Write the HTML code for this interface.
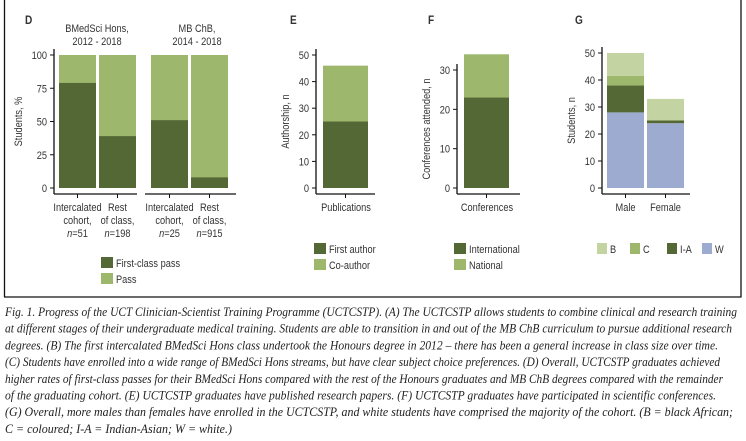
<!DOCTYPE html>
<html><head><meta charset="utf-8"><style>
body{margin:0;background:#fff;width:746px;height:441px;overflow:hidden;font-family:"Liberation Sans",sans-serif}
svg{position:absolute;left:0;top:0}
</style></head><body>
<svg id="s" width="746" height="441"></svg>
<script>
// Panel D
const dCats=["Intercalated cohort, n=51","Rest of class, n=198","Intercalated cohort, n=25","Rest of class, n=915"];
const dFirst=[79,39,51,8];
const dTicks=[0,25,50,75,100];
// Panel E
const eFirst=[25]; const eCo=[21]; const eTicks=[0,10,20,30,40,50];
// Panel F
const fIntl=[23]; const fNat=[11]; const fTicks=[0,10,20,30];
// Panel G
const gCats=["Male","Female"];
const gW=[28,24]; const gIA=[10,1]; const gC=[3.5,0]; const gB=[8.5,8];
const gTicks=[0,10,20,30,40,50];

const S=document.getElementById('s');const NS="http://www.w3.org/2000/svg";
const DK="#546835",LG="#9db86d",PL="#c3d4a2",BL="#9dabd0",TX="#333";
function el(t,a,txt){const e=document.createElementNS(NS,t);for(const k in a)e.setAttribute(k,a[k]);if(txt!==undefined)e.textContent=txt;S.appendChild(e);return e;}
function txt(x,y,s,o){o=o||{};const e=el('text',{x:0,y:0,'font-size':o.fs||11,fill:TX,'text-anchor':o.a||'middle','font-family':'Liberation Sans, sans-serif','font-weight':o.w||'normal'},s);
  e.setAttribute('transform','translate('+x+' '+y+')'+(o.rot?' rotate(-90)':'')+' scale(0.84 1)');return e;}
function line(x1,y1,x2,y2,w){return el('line',{x1:x1,y1:y1,x2:x2,y2:y2,stroke:'#111','stroke-width':w||1.3});}
function rect(x,y,w,h,c){return el('rect',{x:x,y:y,width:w,height:h,fill:c});}

let f=line(4.5,0,4.5,297,1.3);
f=line(741,0,741,297,1.3);
f=line(4,297,741.5,297,1.3);

function yAxis(ax,top,bot,ticks,max,title,tx){
  const y=v=>bot-(v/max)*(bot-top);
  let a=line(ax,top-6,ax,194);
  ticks.forEach(t=>{line(ax-4,y(t),ax,y(t),1);let l=txt(ax-7,y(t)+4,String(t),{a:'end'});});
  let tt=txt(tx,(top+bot)/2,title,{rot:1});
  return y;
}
function legend(x,y,c,label,w){let r=rect(x,y,w||12,11,c);let t=txt(x+(w||12)+3,y+10,label,{a:'start'});}
function plabel(x,s){let t=txt(x,24,s,{w:'bold',fs:12,a:'start'});}

// D
plabel(25,'D');
let t=txt(97,32,'BMedSci Hons,');
t=txt(97,45,'2012 - 2018');
t=txt(197,32,'MB ChB,');
t=txt(197,45,'2014 - 2018');
let yD=yAxis(54,55,188,dTicks,100,'Students, %',22);
line(54,194,137,194);line(145,194,236,194);
const dX=[59,99,151,191];
dCats.forEach((c,i)=>{
  let r=rect(dX[i],yD(100),37,yD(0)-yD(100),LG);
  r=rect(dX[i],yD(dFirst[i]),37,yD(0)-yD(dFirst[i]),DK);
  const cx=dX[i]+18.5;line(cx,194,cx,198,1);
  const p=c.split(', ');const w=p[0].split(' ');
  let a=txt(cx,211,w[0]);
  a=txt(cx,224,(w.slice(1).join(' '))+',');
  const n=p[1].split('=');
  a=txt(cx,237,'');a.innerHTML='<tspan font-style="italic">n</tspan>='+n[1];
});
legend(101,257,DK,'First-class pass');legend(101,273,LG,'Pass');

// E
plabel(290,'E');
let yE=yAxis(316,55,188,eTicks,50,'Authorship, n',289);
line(316,194,375,194);
let r=rect(323,yE(eFirst[0]+eCo[0]),45,yE(eFirst[0])-yE(eFirst[0]+eCo[0]),LG);
r=rect(323,yE(eFirst[0]),45,yE(0)-yE(eFirst[0]),DK);
line(345.5,194,345.5,198,1);t=txt(346,211,'Publications');
legend(314,243,DK,'First author');legend(314,259,LG,'Co-author');

// F
plabel(428,'F');
let yF=yAxis(457,70,188,fTicks,30,'Conferences attended, n',430);
line(457,194,520,194);
r=rect(464,yF(fIntl[0]+fNat[0]),45,yF(fIntl[0])-yF(fIntl[0]+fNat[0]),LG);
r=rect(464,yF(fIntl[0]),45,yF(0)-yF(fIntl[0]),DK);
line(486.5,194,486.5,198,1);t=txt(487,211,'Conferences');
legend(454,243,DK,'International');legend(454,259,LG,'National');

// G
plabel(575,'G');
let yG=yAxis(602,53,188,gTicks,50,'Students, n',575);
line(602,194,690,194);
const gX=[607,647];
gCats.forEach((c,i)=>{
  const segs=[[gW[i],BL,'bar-white'],[gIA[i],DK,'bar-indian-asian'],[gC[i],LG,'bar-coloured'],[gB[i],PL,'bar-black-african']];
  let base=0;
  segs.forEach(s=>{if(s[0]>0){let rr=rect(gX[i],yG(base+s[0]),37,yG(base)-yG(base+s[0]),s[1]);}base+=s[0];});
  const cx=gX[i]+18.5;line(cx,194,cx,198,1);
  let a=txt(cx,211,c);
});
legend(597,243,PL,'B',10);legend(630,243,LG,'C',10);legend(667,243,DK,'I-A',10);legend(702,243,BL,'W',10);

// caption
const capLines=[
"Fig. 1. Progress of the UCT Clinician-Scientist Training Programme (UCTCSTP). (A) The UCTCSTP allows students to combine clinical and research training",
"at different stages of their undergraduate medical training. Students are able to transition in and out of the MB ChB curriculum to pursue additional research",
"degrees. (B) The first intercalated BMedSci Hons class undertook the Honours degree in 2012 – there has been a general increase in class size over time.",
"(C) Students have enrolled into a wide range of BMedSci Hons streams, but have clear subject choice preferences. (D) Overall, UCTCSTP graduates achieved",
"higher rates of first-class passes for their BMedSci Hons compared with the rest of the Honours graduates and MB ChB degrees compared with the remainder",
"of the graduating cohort. (E) UCTCSTP graduates have published research papers. (F) UCTCSTP graduates have participated in scientific conferences.",
"(G) Overall, more males than females have enrolled in the UCTCSTP, and white students have comprised the majority of the cohort. (B = black African;",
"C = coloured; I-A = Indian-Asian; W = white.)"];
const capEnds=[737,732,718,720,723,716,733,232];
capLines.forEach((s,i)=>{
  const e=el('text',{x:5,y:316+i*16.7,'font-size':12.3,fill:'#222','font-style':'italic','font-family':'Liberation Serif, serif',textLength:capEnds[i]-5,lengthAdjust:'spacingAndGlyphs'},s);
  
  
});
</script>
</body></html>
